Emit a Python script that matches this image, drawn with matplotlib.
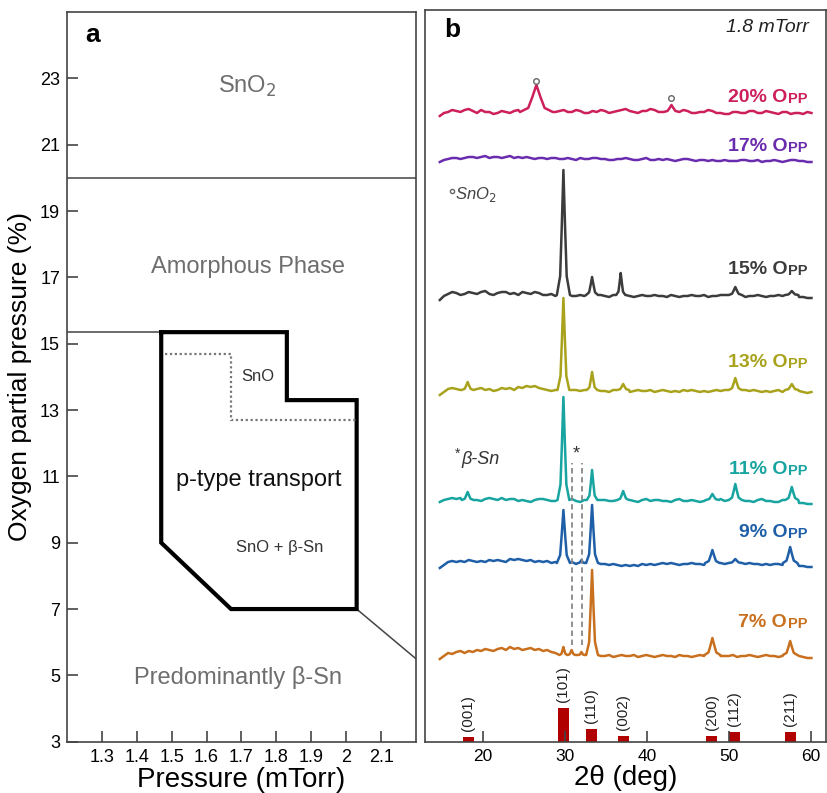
#!/usr/bin/env python3

# Two-panel figure: (a) phase map of sputtered tin oxide vs. pressure / O2 partial pressure,
# (b) XRD patterns at 1.8 mTorr for several O2 partial pressures with SnO reference lines

import matplotlib
matplotlib.use("Agg")
import matplotlib.pyplot as plt
import numpy as np

plt.rcParams['font.family'] = ['Liberation Sans', 'DejaVu Sans']

# ---- panel a data (x: pressure in mTorr, y: O2 partial pressure in %)
sno2_boundary_y = 20.0
amorphous_boundary_y = 15.35
amorphous_boundary_x = [1.2, 1.47]
ptype_x = [1.47, 1.83, 1.83, 2.03, 2.03, 1.67, 1.47, 1.47]
ptype_y = [15.35, 15.35, 13.3, 13.3, 7.0, 7.0, 9.0, 15.35]
sno_x = [1.48, 1.67, 1.67, 2.03]
sno_y = [14.7, 14.7, 12.7, 12.7]
betasn_x = [2.03, 2.2]
betasn_y = [7.0, 5.5]

region_text = ['SnO$_2$', 'Amorphous Phase', 'SnO', 'p-type transport', 'SnO + β-Sn', 'Predominantly β-Sn']
region_x = [1.717, 1.72, 1.747, 1.75, 1.81, 1.69]
region_y = [22.75, 17.3, 14.0, 10.9, 8.85, 4.95]
region_size = [17, 17, 12, 17, 12, 17]
region_color = ['#6e6e6e', '#6e6e6e', '#333333', '#111111', '#333333', '#6e6e6e']

# ---- panel b data (y in arbitrary stacked units)
opp_labels = ['20%', '17%', '15%', '13%', '11%', '9%', '7%']
opp_colors = ['#cc1f5c', '#6a2cae', '#3c3c3c', '#a8a21c', '#18a4a0', '#1f5fa8', '#c8701e']
offsets = [629.7, 581.7, 446.7, 351.7, 241.7, 178.7, 86.7]
label_y = [643.7, 594.7, 471.7, 378.7, 271.7, 208.7, 118.7]

# baseline wiggle of each pattern, read every ~0.5 deg from 14.7 to 60.1 deg
wiggle_20 = [-4, -1, 0, 2, 1, 0, 2, 3, 1, -1, 2, 0, 0, -2, -1, 1, 0, -1, 1, 2,
             -1, 0, 0, 2, 1, -1, -1, 1, 0, 1, 2, 0, 0, 2, 1, -1, -1, 1, 0, 2,
             1, -1, 0, 1, 2, 3, 1, 0, -1, 1, 1, 3, 2, 0, 0, 1, -1, 0, 0, 2,
             1, -1, -1, 0, 0, 2, 1, -1, -1, -2, -2, 0, 0, -1, -1, 1, 1, -1, -1, 1,
             0, -1, -2, 0, 0, -2, -1, -1, -2, 0, -1]
wiggle_17 = [-2, 0, 1, 2, 2, 1, 2, 3, 3, 2, 3, 4, 2, 3, 3, 2, 3, 4, 2, 3,
             2, 3, 2, 1, 2, 2, 1, 2, 2, 1, 1, 2, 1, 0, 2, 1, 1, 2, 2, 1,
             1, 0, 0, 1, 1, 2, 1, 0, 0, 1, 2, 0, 0, 1, 0, 1, 0, -1, 0, 1,
             1, 0, -1, 0, 0, -1, 0, -1, -1, 0, -1, -1, -1, 0, 0, -1, -1, 0, -2, -1,
             -1, 0, -1, -2, -1, 0, 0, -1, -1, -2, -2]
wiggle_15 = [-5, -1, 1, 3, 2, 0, 1, 3, 2, 1, 3, 4, 1, 0, 2, 3, 3, 1, 2, 0,
             3, 2, 1, 3, 2, 0, 0, 1, -1, 0, 0, 1, -1, -1, 0, -1, -1, 0, -1, 0,
             -1, -2, 0, -1, -1, 0, -1, -2, -1, 0, -1, -1, 0, -1, -1, -2, 0, -1, -2, -1,
             -1, 0, -1, -1, 0, -2, -1, -1, 0, 0, -1, -2, 0, -1, -2, -1, -1, 0, -1, -2,
             -1, -1, 0, -1, -2, -2, -1, -2, -2, -3, -3]
wiggle_13 = [-5, -2, 1, 2, 1, 0, 1, 0, 2, 1, 2, 0, 1, -1, 0, 2, 1, 2, 0, 3,
             2, 4, 3, 4, 2, 1, 0, -1, 0, -2, -1, -2, 0, 0, -1, 0, -1, 0, 1, -1,
             -1, -2, 0, -1, 0, -1, -2, -1, 0, -1, -1, 0, -2, -1, 0, -1, -2, -1, -2, 0,
             -1, 0, -1, -2, -1, -2, -1, 0, -1, 0, -1, -2, -1, -2, 0, -1, 0, -1, -2, -1,
             -2, -1, 0, -2, -1, -1, -2, -1, -2, -3, -2]
wiggle_11 = [-2, 0, 1, 2, 1, 2, 3, 1, 2, 0, -1, 1, 2, 1, 0, 2, 0, 1, 1, -1,
             0, -1, -2, 0, 1, 1, 0, -1, -1, 0, 1, 0, 1, -1, -2, 0, 1, 0, -1, 0,
             0, -1, -1, 0, -1, 1, 0, -1, -2, 0, 1, -1, 0, 0, -1, -1, -2, 0, 1, -1,
             -1, 0, -1, -2, -1, 0, 0, 1, 1, -1, -2, 0, 0, -2, -1, -1, -2, 0, 1, -1,
             -1, -2, -2, 0, -1, -2, -1, -3, -3, -4, -4]
wiggle_9 = [-5, -2, 1, 2, 1, 2, 1, 3, 2, 1, 2, 1, 3, 2, 3, 2, 1, 4, 3, 4,
            3, 2, 3, 1, 2, 1, 2, 0, 1, 0, 1, 0, 1, -1, 0, -1, 0, -1, -2, -1,
            -1, -2, -1, -2, -3, -2, -3, -2, -3, -1, -2, -1, -2, -1, 0, -1, 0, -1, -2, -1,
            -1, 0, -1, -1, -2, -1, -2, -1, 0, -1, 0, -1, -2, -1, -1, 0, -1, -1, -2, -1,
            -2, -1, -1, -2, -1, -2, -2, -3, -3, -4, -4]
wiggle_7 = [-4, -1, 2, 1, 3, 4, 2, 4, 3, 5, 4, 6, 5, 4, 6, 7, 5, 8, 6, 7,
            5, 6, 7, 5, 6, 4, 5, 3, 2, 1, 1, 0, 1, 0, -1, 1, 0, -1, 0, -1,
            -1, 0, -2, -1, 0, -1, -1, 0, -2, -1, 0, -1, -2, -1, 0, -1, -1, -2, 0, -1,
            -1, -2, -1, 0, -1, -1, 0, -2, -1, -1, -1, 0, -2, -1, -1, 0, -1, -2, -1, 0,
            -1, -1, -2, -1, 0, -1, -2, -1, -2, -3, -3]
wiggles = [wiggle_20, wiggle_17, wiggle_15, wiggle_13, wiggle_11, wiggle_9, wiggle_7]

# peaks: (2theta, height, width scale)
peaks_20 = [(26.5, 27, 2.5), (43.0, 7, 1.2)]
peaks_17 = []
peaks_15 = [(29.8, 125, 1.0), (33.3, 18, 0.9), (36.8, 22, 0.7), (50.8, 8, 1.0), (57.7, 4, 1.0)]
peaks_13 = [(18.1, 8, 0.9), (29.8, 92, 0.9), (33.3, 18, 0.8), (37.1, 6, 0.9), (50.8, 12, 1.0), (57.7, 6, 1.0)]
peaks_11 = [(18.1, 8, 0.9), (29.8, 103, 0.9), (33.3, 30, 0.8), (37.1, 9, 0.9), (48.0, 6, 1.0),
            (50.8, 16, 1.0), (57.7, 13, 1.0)]
peaks_9 = [(29.8, 53, 1.0), (32.0, 3, 0.5), (33.3, 58, 0.9), (48.0, 13, 1.1), (50.8, 4, 1.0), (57.5, 16, 1.1)]
peaks_7 = [(29.8, 8, 0.6), (30.8, 5, 0.6), (32.0, 3, 0.5), (33.3, 85, 0.9), (48.0, 17, 1.2), (57.5, 14, 1.1)]
peaks = [peaks_20, peaks_17, peaks_15, peaks_13, peaks_11, peaks_9, peaks_7]

# SnO2 markers on the 20% pattern
sno2_mark_x = [26.5, 43.0]
sno2_mark_y = [660.7, 643.7]

# beta-Sn guide lines
betasn_lines_x = [30.8, 32.05]
betasn_lines_y = [96.7, 278.7]

# SnO reference pattern
ref_pos = [18.2, 29.8, 33.2, 37.1, 47.9, 50.7, 57.5]
ref_int = [5, 34, 13, 6, 6, 10, 10]
ref_hkl = ['(001)', '(101)', '(110)', '(002)', '(200)', '(112)', '(211)']

peak_dx = np.array([-0.8, -0.4, -0.2, 0.0, 0.2, 0.4, 0.8])
peak_frac = np.array([0.0, 0.15, 0.55, 1.0, 0.55, 0.15, 0.0])


def build_trace(wiggle, peak_list):
    x = np.linspace(14.7, 60.1, len(wiggle))
    y = np.array(wiggle, dtype=float)
    keep = np.ones(len(x), dtype=bool)
    px, py = [], []
    for pos, h, w in peak_list:
        keep &= np.abs(x - pos) > 0.8 * w
        px.extend(pos + peak_dx * w)
        py.extend(h * peak_frac)
    xx = np.concatenate([x[keep], px])
    yy = np.concatenate([y[keep], py])
    order = np.argsort(xx)
    return xx[order], yy[order]


def style_axes(ax):
    for s in ax.spines.values():
        s.set_color('#444444')
        s.set_linewidth(1.2)
    ax.tick_params(direction='in', length=8, width=1.2, color='#444444', labelsize=13, pad=5)


fig = plt.figure(figsize=(8.27, 7.93), dpi=100)

# ---------------- panel a
ax = fig.add_axes([0.081, 0.0647, 0.422, 0.920])
style_axes(ax)
ax.set_xlim(1.2, 2.2)
ax.set_ylim(3, 25)
ax.set_xticks(np.arange(1.3, 2.15, 0.1))
ax.set_xticklabels(['1.3', '1.4', '1.5', '1.6', '1.7', '1.8', '1.9', '2', '2.1'])
ax.set_yticks(range(3, 24, 2))

ax.axhline(sno2_boundary_y, color='#444444', lw=1.1)
ax.plot(amorphous_boundary_x, [amorphous_boundary_y] * 2, color='#444444', lw=1.1)
ax.plot(betasn_x, betasn_y, color='#444444', lw=1.1)
ax.plot(ptype_x, ptype_y, color='black', lw=3, solid_joinstyle='miter')
ax.plot(sno_x, sno_y, color='#777777', lw=1.6, linestyle=(0, (1, 1.2)))

for t, x, y, s, c in zip(region_text, region_x, region_y, region_size, region_color):
    ax.text(x, y, t, fontsize=s, color=c, ha='center', va='center')

ax.text(1.251, 24.3, 'a', fontsize=19, fontweight='bold', ha='left', va='center')
ax.set_xlabel('Pressure (mTorr)', fontsize=20, labelpad=1)
ax.set_ylabel('Oxygen partial pressure (%)', fontsize=19, labelpad=6)

# ---------------- panel b
bx = fig.add_axes([0.514, 0.0647, 0.485, 0.9227])
style_axes(bx)
bx.set_xlim(12.9, 61.9)
bx.set_ylim(0, 731.7)
bx.set_xticks([20, 30, 40, 50, 60])
bx.set_yticks([])
bx.tick_params(labelsize=12.5)

for lab, col, off, ly, w, pk in zip(opp_labels, opp_colors, offsets, label_y, wiggles, peaks):
    tx, ty = build_trace(w, pk)
    bx.plot(tx, ty + off, color=col, lw=1.8, solid_joinstyle='round')
    bx.annotate('PP', (59.6, ly), xytext=(0, -1), textcoords='offset points',
                fontsize=10.5, fontweight='bold', color=col, ha='right', va='center')
    bx.annotate(lab + ' O', (59.6, ly), xytext=(-14.5, 0), textcoords='offset points',
                fontsize=14, fontweight='bold', color=col, ha='right', va='center')

bx.plot(sno2_mark_x, sno2_mark_y, 'o', ms=4, mfc='none', mec='#666666', mew=1)

for x in betasn_lines_x:
    bx.plot([x, x], betasn_lines_y, color='#888888', lw=1.3, linestyle=(0, (3, 2)))
bx.text(31.4, 287.7, '*', fontsize=13, ha='center', va='center', color='#333333')

bx.plot([16.15], [550.7], 'o', ms=3, mfc='none', mec='#666666', mew=1)
bx.text(16.55, 546.7, 'SnO$_2$', fontsize=12, style='italic', color='#444444', ha='left', va='center')
bx.text(16.9, 287.7, '*', fontsize=10, color='#333333', ha='center', va='center')
bx.text(17.4, 281.7, 'β-Sn', fontsize=13, style='italic', color='#333333', ha='left', va='center')

bx.bar(ref_pos, ref_int, width=1.35, color='#b00000')
for p, h, hkl in zip(ref_pos, ref_int, ref_hkl):
    bx.text(p, h + 6, hkl, rotation=90, fontsize=11, ha='center', va='bottom', color='#222222')

bx.text(15.3, 711.7, 'b', fontsize=19, fontweight='bold', ha='left', va='center')
bx.text(59.8, 713.7, '1.8 mTorr', fontsize=14, style='italic', ha='right', va='center', color='#222222')
bx.set_xlabel('2θ (deg)', fontsize=20, labelpad=1)

fig.savefig('out.png', dpi=100)
